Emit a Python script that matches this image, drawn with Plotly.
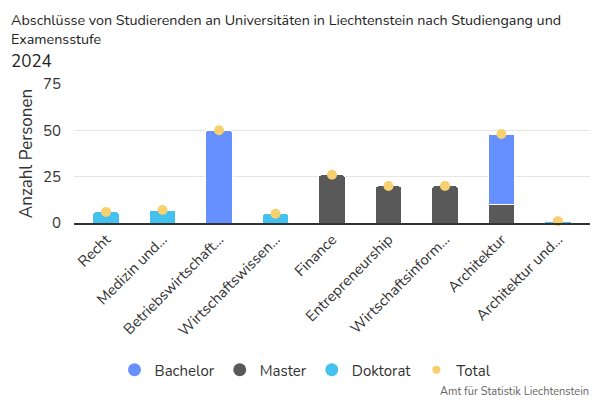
import plotly.graph_objects as go

CATEGORIES = [
    "Recht",
    "Medizin und…",
    "Betriebswirtschaft…",
    "Wirtschaftswissen…",
    "Finance",
    "Entrepreneurship",
    "Wirtschaftsinform…",
    "Architektur",
    "Architektur und…",
]
BACHELOR = [0, 0, 50, 0, 0, 0, 0, 38, 0]
MASTER = [0, 0, 0, 0, 26, 20, 20, 10, 0]
DOKTORAT = [6, 7, 0, 5, 0, 0, 0, 0, 1]
TOTAL = [b + m + d for b, m, d in zip(BACHELOR, MASTER, DOKTORAT)]

SERIES = [
    ("Bachelor", BACHELOR, "#6690ff"),
    ("Master", MASTER, "#595959"),
    ("Doktorat", DOKTORAT, "#45c1ef"),
]
TOTAL_COLOR = "#f7d070"
FONT = "Nunito, Lato, sans-serif"

# plot area: x 74..590, y 84..223 (px)
PLOT_H = 139


def py(pixel_y):
    """container pixel y -> paper y"""
    return (223 - pixel_y) / PLOT_H


def px(pixel_x):
    return (pixel_x - 74) / 516


fig = go.Figure()
# Master first so it sits below Bachelor in the stack
for name, values, color in [SERIES[1], SERIES[0], SERIES[2]]:
    fig.add_trace(
        go.Bar(
            x=CATEGORIES,
            y=values,
            name=name,
            showlegend=False,
            marker={"color": color, "line": {"color": "white", "width": 1}},
        )
    )
fig.add_trace(
    go.Scatter(
        x=CATEGORIES,
        y=TOTAL,
        name="Total",
        mode="markers",
        showlegend=False,
        cliponaxis=False,
        marker={"color": TOTAL_COLOR, "size": 10},
    )
)

# round legend symbols, like the reference
for name, _, color in SERIES:
    fig.add_trace(
        go.Scatter(
            x=[None], y=[None], name=name, mode="markers",
            marker={"color": color, "size": 13},
        )
    )
fig.add_trace(
    go.Scatter(
        x=[None], y=[None], name="Total", mode="markers",
        marker={"color": TOTAL_COLOR, "size": 8},
    )
)

fig.update_layout(
    width=600,
    height=400,
    barmode="stack",
    bargap=0.53,
    barcornerradius=3,
    plot_bgcolor="white",
    paper_bgcolor="white",
    font={"family": FONT, "color": "#333333"},
    margin={"l": 74, "r": 10, "t": 84, "b": 177},
    legend={
        "orientation": "h",
        "x": px(306),
        "xanchor": "center",
        "y": py(370),
        "yanchor": "middle",
        "font": {"size": 15, "color": "#333333"},
        "itemsizing": "trace",
        "traceorder": "normal",
    },
    annotations=[
        {
            "text": "Abschlüsse von Studierenden an Universitäten in Liechtenstein nach Studiengang und<br>Examensstufe",
            "xref": "paper", "yref": "paper",
            "x": px(9), "y": py(9), "xanchor": "left", "yanchor": "top",
            "align": "left", "showarrow": False,
            "font": {"size": 14.3, "color": "#222222"},
        },
        {
            "text": "2024",
            "xref": "paper", "yref": "paper",
            "x": px(9), "y": py(48), "xanchor": "left", "yanchor": "top",
            "align": "left", "showarrow": False,
            "font": {"size": 17, "color": "#222222"},
        },
        {
            "text": "Amt für Statistik Liechtenstein",
            "xref": "paper", "yref": "paper",
            "x": px(591), "y": py(391), "xanchor": "right", "yanchor": "middle",
            "showarrow": False,
            "font": {"size": 11, "color": "#666666"},
        },
    ],
)

fig.update_xaxes(
    automargin=False,
    tickangle=-45,
    tickfont={"size": 15, "color": "#333333"},
    showline=True,
    linecolor="#333333",
    linewidth=1.5,
    ticks="",
)
fig.update_yaxes(
    automargin=False,
    range=[0, 75],
    tickvals=[0, 25, 50, 75],
    tickfont={"size": 15, "color": "#333333"},
    ticklabelstandoff=12,
    gridcolor="#e6e6e6",
    zeroline=False,
    title={"text": "Anzahl Personen", "font": {"size": 17, "color": "#333333"}, "standoff": 6},
)

fig.write_html(
    "out.html",
    config={"displayModeBar": False},
    post_script="document.body.style.margin='0';",
)
